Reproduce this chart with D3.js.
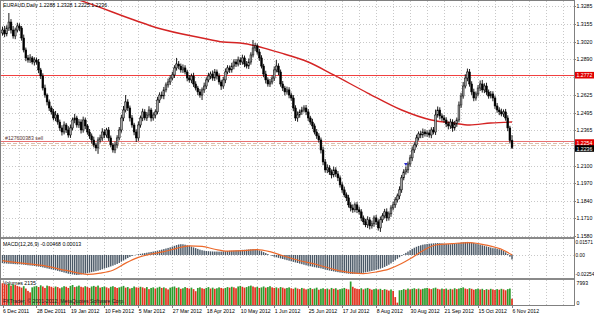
<!DOCTYPE html>
<html lang="en">
<head>
<meta charset="UTF-8" />
<title>EURAUD Daily</title>
<script src="https://d3js.org/d3.v7.min.js"></script>
<style>
  html, body { margin: 0; padding: 0; background: #fff; }
  svg { display: block; font-family: "Liberation Sans", Arial, sans-serif; }
  .lbl { font-size: 5.2px; fill: #000; }
  .grid line { stroke: #c8c8c8; stroke-dasharray: 1,2; shape-rendering: crispEdges; }
  .level { stroke: #f04040; stroke-width: 1; shape-rendering: crispEdges; }
</style>
</head>
<body>
<svg id="chart" width="594" height="316"></svg>
<script>
// ---- data ----
const symbolTitle = 'EURAUD,Daily';
const lastOHLC = ['1.2288', '1.2328', '1.2225', '1.2236'];
const firstOpen = 1.3085;
const closes = [
  1.3107,1.3078,1.3122,1.3166,1.3107,1.3063,1.3107,1.3137,
  1.3122,1.3048,1.2959,1.2900,1.2885,1.2900,1.2870,1.2885,
  1.2870,1.2811,1.2766,1.2677,1.2625,1.2574,1.2529,1.2500,
  1.2455,1.2477,1.2425,1.2381,1.2351,1.2403,1.2366,1.2329,
  1.2381,1.2440,1.2455,1.2403,1.2425,1.2366,1.2440,1.2396,
  1.2351,1.2322,1.2292,1.2255,1.2233,1.2292,1.2307,1.2351,
  1.2329,1.2366,1.2307,1.2255,1.2218,1.2255,1.2307,1.2366,
  1.2455,1.2514,1.2574,1.2529,1.2455,1.2403,1.2351,1.2307,
  1.2403,1.2455,1.2500,1.2455,1.2477,1.2514,1.2455,1.2477,
  1.2500,1.2588,1.2625,1.2618,1.2663,1.2700,1.2722,1.2751,
  1.2774,1.2826,1.2855,1.2840,1.2811,1.2826,1.2796,1.2751,
  1.2737,1.2766,1.2707,1.2677,1.2648,1.2625,1.2663,1.2692,
  1.2737,1.2766,1.2781,1.2751,1.2796,1.2766,1.2722,1.2692,
  1.2737,1.2796,1.2826,1.2811,1.2840,1.2870,1.2855,1.2885,
  1.2870,1.2900,1.2855,1.2840,1.2870,1.2922,1.2974,1.2989,
  1.2944,1.2900,1.2840,1.2781,1.2737,1.2707,1.2722,1.2751,
  1.2811,1.2840,1.2796,1.2707,1.2677,1.2648,1.2663,1.2625,
  1.2603,1.2529,1.2455,1.2477,1.2500,1.2514,1.2529,1.2500,
  1.2455,1.2425,1.2396,1.2351,1.2322,1.2292,1.2218,1.2129,
  1.2070,1.2085,1.2055,1.2033,1.2070,1.2040,1.2011,1.1959,
  1.1922,1.1885,1.1863,1.1811,1.1788,1.1774,1.1811,1.1774,
  1.1759,1.1714,1.1685,1.1663,1.1700,1.1655,1.1670,1.1714,
  1.1685,1.1640,1.1700,1.1729,1.1759,1.1714,1.1744,1.1788,
  1.1811,1.1848,1.1877,1.1922,1.2011,1.2055,1.2070,1.2114,
  1.2159,1.2218,1.2255,1.2307,1.2337,1.2329,1.2351,1.2337,
  1.2344,1.2329,1.2366,1.2351,1.2477,1.2514,1.2470,1.2455,
  1.2440,1.2411,1.2396,1.2425,1.2381,1.2411,1.2440,1.2551,
  1.2618,1.2692,1.2751,1.2796,1.2707,1.2648,1.2603,1.2633,
  1.2677,1.2707,1.2663,1.2692,1.2648,1.2618,1.2633,1.2603,
  1.2544,1.2514,1.2500,1.2485,1.2500,1.2455,1.2381,1.2288,
  1.2236
];
// wick lengths in pips above the body top / below the body bottom
const hiWick = [
  25,30,20,67,22,30,18,24, 20,15,25,18,22,28,14,20, 18,22,15,20,25,12,18,16,
  22,30,14,18,20,26,15,28, 24,18,30,16,22,20,25,18, 14,22,18,25,16,20,24,28,
  20,16,22,18,14,25,20,22, 24,30,51,20,18,22,16,20, 26,18,24,20,22,28,16,20,
  18,24,20,26,22,18,25,20, 24,20,45,22,18,26,20,16, 22,18,24,20,16,22,18,25,
  20,24,18,26,22,18,20,16, 22,26,20,18,24,20,22,25, 20,24,18,22,26,20,59,22,
  18,22,20,16,24,18,22,20, 26,45,20,18,22,16,24,20, 18,22,20,26,18,24,20,22,
  20,16,24,18,22,20,18,24, 22,26,20,18,24,20,22,18, 20,24,18,22,20,26,18,22,
  24,20,18,22,26,20,24,18, 22,18,24,20,22,26,18,20, 24,20,18,26,22,20,24,18,
  22,26,20,24,18,22,26,20, 18,24,20,22,40,26,20,18, 22,20,18,24,20,22,18,26,
  24,30,28,25,22,20,24,18, 22,26,30,20,24,18,22,20, 18,22,20,24,18,22,20,16,
  40
];
const loWick = [
  20,24,18,22,26,20,24,18, 22,20,18,24,20,22,18,26, 20,24,22,18,20,26,22,20,
  18,24,20,22,26,18,22,20, 22,18,24,20,22,26,20,24, 20,22,26,18,24,44,20,22,
  24,20,22,18,20,24,22,18, 20,24,18,22,26,20,24,30, 22,20,24,18,22,20,26,20,
  24,18,22,20,24,18,20,22, 18,22,20,24,20,22,18,24, 20,24,22,18,24,20,37,22,
  22,18,24,20,22,26,20,29, 20,24,18,22,20,24,22,18, 22,20,24,18,22,20,18,24,
  20,22,18,24,26,20,22,18, 22,18,24,20,22,26,20,24, 20,24,22,28,20,22,18,24,
  22,20,24,18,22,20,26,24, 20,24,22,26,18,22,24,20, 22,18,24,20,26,22,18,24,
  20,24,22,18,24,26,20,22, 24,20,30,22,18,24,20,22, 18,22,20,24,22,18,20,24,
  20,24,22,18,20,24,22,20, 22,20,24,18,22,20,26,22, 20,24,26,22,28,20,22,18,
  22,20,18,24,20,22,24,20, 18,22,20,24,22,20,18,24, 22,20,24,18,22,20,24,22,
  11
];
// moving average (red) read at a few bars
const maIdx = [28, 36, 62, 73, 94, 104, 112, 131, 144, 156, 172, 188, 202, 212, 220, 230, 240];
const maVal = [1.3366, 1.3329, 1.3181, 1.3122, 1.3048, 1.3018, 1.3011, 1.2937, 1.2870, 1.2774,
               1.2640, 1.2514, 1.2440, 1.2418, 1.2403, 1.2418, 1.2425];
const levelPrice = 1.2772;
const levelLabel = '1.2772';
const orderPrice = 1.2254;
const orderLabel = '1.2254';
const orderText = '#127600383 sell';
const bidPrice = 1.2236;
const bidLabel = '1.2236';
const tradeMarkIdx = 190;
const tradeMarkPrice = 1.2114;

const priceTicks = [1.3285, 1.3155, 1.3020, 1.2890, 1.2760, 1.2625, 1.2495, 1.2365,
                    1.2230, 1.2100, 1.1970, 1.1840, 1.1710, 1.1580];

const macdVals = [
  -0.0085,-0.0088,-0.0090,-0.0092,-0.0093,-0.0095,-0.0096,-0.0098,
  -0.0098,-0.0100,-0.0102,-0.0105,-0.0108,-0.0110,-0.0112,-0.0115,
  -0.0118,-0.0122,-0.0125,-0.0130,-0.0135,-0.0140,-0.0145,-0.0150,
  -0.0155,-0.0160,-0.0166,-0.0172,-0.0178,-0.0184,-0.0190,-0.0196,
  -0.0200,-0.0204,-0.0207,-0.0210,-0.0208,-0.0205,-0.0200,-0.0195,
  -0.0190,-0.0185,-0.0180,-0.0175,-0.0170,-0.0165,-0.0158,-0.0150,
  -0.0142,-0.0135,-0.0128,-0.0120,-0.0112,-0.0103,-0.0094,-0.0084,
  -0.0070,-0.0058,-0.0045,-0.0032,-0.0020,-0.0010,-0.0003,0.0003,
  0.0008,0.0012,0.0016,0.0020,0.0024,0.0028,0.0032,0.0036,
  0.0040,0.0045,0.0050,0.0056,0.0062,0.0068,0.0074,0.0080,
  0.0088,0.0096,0.0104,0.0110,0.0113,0.0112,0.0108,0.0102,
  0.0095,0.0088,0.0080,0.0072,0.0064,0.0056,0.0050,0.0045,
  0.0042,0.0040,0.0038,0.0037,0.0036,0.0036,0.0035,0.0036,
  0.0038,0.0040,0.0042,0.0044,0.0045,0.0046,0.0048,0.0050,
  0.0052,0.0054,0.0055,0.0056,0.0058,0.0060,0.0062,0.0060,
  0.0055,0.0048,0.0040,0.0030,0.0020,0.0010,0.0000,-0.0010,
  -0.0018,-0.0024,-0.0030,-0.0036,-0.0042,-0.0048,-0.0054,-0.0060,
  -0.0066,-0.0072,-0.0078,-0.0084,-0.0090,-0.0096,-0.0102,-0.0108,
  -0.0113,-0.0118,-0.0123,-0.0128,-0.0132,-0.0136,-0.0140,-0.0146,
  -0.0152,-0.0158,-0.0163,-0.0168,-0.0172,-0.0176,-0.0180,-0.0184,
  -0.0187,-0.0190,-0.0193,-0.0196,-0.0198,-0.0199,-0.0198,-0.0196,
  -0.0193,-0.0190,-0.0186,-0.0182,-0.0177,-0.0172,-0.0167,-0.0162,
  -0.0156,-0.0150,-0.0143,-0.0135,-0.0125,-0.0114,-0.0102,-0.0088,
  -0.0072,-0.0056,-0.0040,-0.0024,-0.0008,0.0008,0.0022,0.0036,
  0.0050,0.0064,0.0076,0.0086,0.0095,0.0102,0.0108,0.0112,
  0.0115,0.0118,0.0120,0.0122,0.0124,0.0125,0.0124,0.0122,
  0.0119,0.0116,0.0114,0.0113,0.0115,0.0118,0.0122,0.0126,
  0.0130,0.0134,0.0136,0.0137,0.0135,0.0131,0.0126,0.0120,
  0.0114,0.0108,0.0102,0.0096,0.0090,0.0084,0.0078,0.0072,
  0.0070,0.0066,0.0060,0.0052,0.0042,0.0028,0.0010,-0.0018,
  -0.00468
];
const signalIdx = [0, 10, 20, 30, 40, 46, 52, 58, 64, 70, 76, 82, 88, 94, 100, 106, 114, 120, 126,
                   132, 140, 148, 156, 164, 170, 176, 182, 188, 192, 198, 204, 212, 220, 228, 236, 240];
const signalVal = [-0.0060, -0.0088, -0.0115, -0.0162, -0.0203, -0.0190, -0.0160, -0.0085, -0.0025,
                   0.0010, 0.0035, 0.0070, 0.0095, 0.0090, 0.0060, 0.0040, 0.0045, 0.0057, 0.0035,
                   -0.0008, -0.0060, -0.0100, -0.0150, -0.0185, -0.0195, -0.0178, -0.0148, -0.0090,
                   -0.0040, 0.0045, 0.0105, 0.0120, 0.0130, 0.0103, 0.0050, 0.00013];
const macdTitle = 'MACD(12,26,9) -0.00468 0.00013';
const macdTicks = [0.01571, 0, -0.02254];
const macdTickText = ['0.01571', '0.00', '-0.02254'];

const volumes = [
  7400,7100,6900,7300,6600,7000,6800,6500, 6200,5900,6400,5600,4800,4300,6000,6300,
  6500,6100,6700,6300,5800,6600,6400,6200, 5900,6300,6100,5700,6000,6400,6200,5800,
  6500,6800,6100,6300,6600,6200,6000,6400, 6100,5800,6300,6500,6200,6600,5900,6100,
  6300,6000,5700,6200,6400,6100,5800,6000, 6200,6500,5900,6100,5600,5800,6300,6000,
  5900,6200,6000,5700,6100,5400,5800,6000, 5600,5900,6200,5800,6000,5700,5300,5900,
  6100,6300,5800,6000,5500,5700,6100,5800, 5600,5900,5400,4700,5800,6000,5700,5500,
  5800,6100,5600,5900,5500,5700,6000,5800, 5600,5800,6100,5900,6200,6000,5700,6300,
  6500,6200,5900,6100,6400,6600,6300,6000, 6200,5800,6000,6300,5900,6100,6400,6000,
  5800,6000,5700,6100,5900,5600,5800,6000, 5700,5500,5900,5600,5400,5800,5600,5300,
  5500,5800,5400,5600,5900,5200,5500,5700, 5400,5600,5300,5800,5500,5700,5200,5400,
  5600,5800,5500,5300,7993,6200,5700,5500, 5400,5700,5300,5600,5800,5500,5200,5400,
  5600,5300,5500,5100,5400,5200,4900,5300, 4800,2700,800,5000,5100,5400,5200,5600,
  5300,5500,5700,5400,5600,5300,5500,5700, 5800,5600,5400,5700,5900,5500,5300,5600,
  5400,5600,5200,5500,5300,5700,5400,5600, 5800,6000,5600,5400,5700,5500,5200,5400,
  5600,5300,5500,5100,5400,5200,5500,5300, 5100,5400,5200,5500,5300,5000,5400,5600,
  2135
];
const volTitle = 'Volumes 2135';
const volTicks = [7993, 0];
const copyrightText = 'FXTrader, \u00a9 2001-2012, MetaQuotes Software Corp.';

const dateLabels = ['6 Dec 2011', '28 Dec 2011', '19 Jan 2012', '10 Feb 2012', '5 Mar 2012',
  '27 Mar 2012', '18 Apr 2012', '10 May 2012', '1 Jun 2012', '25 Jun 2012', '17 Jul 2012',
  '8 Aug 2012', '30 Aug 2012', '21 Sep 2012', '15 Oct 2012', '6 Nov 2012'];
const labelEvery = 16;
const gridEvery = 8;

// ---- layout ----
const W = 594, H = 316;
const plotR = 574;
const main = { top: 1, bottom: 237 };
const macdP = { top: 239, bottom: 277 };
const volP = { top: 280, bottom: 305 };

const svg = d3.select('#chart');

const x = d3.scaleLinear().domain([0, closes.length - 1]).range([2.5, 512]);
const y = d3.scaleLinear().domain([1.1580, 1.3285]).range([236, 6]);
const ym = d3.scaleLinear().domain([-0.02254, 0.01571]).range([276.5, 240]);
const yv = d3.scaleLinear().domain([0, 7993]).range([305, 281.5]);

const bars = closes.map((c, i) => {
  const o = i === 0 ? firstOpen : closes[i - 1];
  return {
    i, o, c,
    h: Math.max(o, c) + hiWick[i] / 10000,
    l: Math.min(o, c) - loWick[i] / 10000
  };
});

svg.append('defs').append('clipPath').attr('id', 'clipMain')
  .append('rect').attr('x', 0).attr('y', main.top).attr('width', plotR).attr('height', main.bottom - main.top);

// grids
const grid = svg.append('g').attr('class', 'grid');
const gridIdx = d3.range(0, 400, gridEvery).filter(i => x(i) < plotR - 2);
[[main.top, main.bottom], [macdP.top, macdP.bottom], [volP.top, volP.bottom]].forEach(([t, b]) => {
  grid.selectAll(null).data(gridIdx).enter().append('line')
    .attr('x1', d => Math.round(x(d)) + 0.5).attr('x2', d => Math.round(x(d)) + 0.5)
    .attr('y1', t).attr('y2', b);
});
grid.selectAll(null).data(priceTicks).enter().append('line')
  .attr('x1', 0).attr('x2', plotR)
  .attr('y1', d => Math.round(y(d)) + 0.5).attr('y2', d => Math.round(y(d)) + 0.5);
grid.append('line').attr('x1', 0).attr('x2', plotR)
  .attr('y1', Math.round(ym(0)) + 0.5).attr('y2', Math.round(ym(0)) + 0.5);

// horizontal level + order lines (outside the clipped group)
svg.append('line').attr('class', 'level')
  .attr('x1', 1).attr('x2', plotR)
  .attr('y1', Math.round(y(levelPrice)) + 0.5).attr('y2', Math.round(y(levelPrice)) + 0.5);
svg.append('line').attr('class', 'level')
  .attr('x1', 1).attr('x2', plotR)
  .attr('y1', Math.round(y(orderPrice)) - 3.5).attr('y2', Math.round(y(orderPrice)) - 3.5)
  .style('stroke', '#e87070');
svg.append('line')
  .attr('x1', 1).attr('x2', plotR)
  .attr('y1', Math.round(y(orderPrice)) - 1.5).attr('y2', Math.round(y(orderPrice)) - 1.5)
  .style('stroke', '#c8a088').style('stroke-width', 0.7).style('stroke-dasharray', '4,2');
svg.append('line')
  .attr('x1', 1).attr('x2', plotR)
  .attr('y1', Math.round(y(orderPrice)) + 0.5).attr('y2', Math.round(y(orderPrice)) + 0.5)
  .style('stroke', '#d4b090').style('stroke-width', 0.7).style('stroke-dasharray', '5,2,1,2');

// main panel
const gMain = svg.append('g').attr('clip-path', 'url(#clipMain)');

gMain.append('path')
  .datum(maIdx.map((d, k) => [d, maVal[k]]))
  .attr('fill', 'none').attr('stroke', '#d42424').attr('stroke-width', 1.4)
  .attr('d', d3.line().x(d => x(d[0])).y(d => y(d[1])).curve(d3.curveMonotoneX));

const candle = gMain.append('g');
candle.selectAll('line').data(bars).enter().append('line')
  .attr('x1', d => x(d.i)).attr('x2', d => x(d.i))
  .attr('y1', d => y(d.h)).attr('y2', d => y(d.l))
  .attr('stroke', '#000').attr('stroke-width', 0.9);
candle.selectAll('rect').data(bars).enter().append('rect')
  .attr('x', d => x(d.i) - 0.9).attr('width', 1.8)
  .attr('y', d => y(Math.max(d.o, d.c)))
  .attr('height', d => Math.max(0.6, Math.abs(y(d.o) - y(d.c))))
  .attr('fill', d => d.c >= d.o ? '#a0a0a0' : '#000')
  .attr('stroke', '#000').attr('stroke-width', 0.5);

gMain.append('path')
  .attr('d', d3.symbol().type(d3.symbolTriangle).size(6)())
  .attr('transform', `translate(${x(tradeMarkIdx)},${y(tradeMarkPrice)}) rotate(180)`)
  .attr('fill', '#2a2ad0');

svg.append('text').attr('class', 'lbl').attr('x', 5).attr('y', Math.round(y(orderPrice)) - 5)
  .style('fill', '#553333').text(orderText);

svg.append('text').attr('class', 'lbl').attr('x', 3).attr('y', 7)
  .text(symbolTitle + '  ' + lastOHLC.join(' '));

// MACD panel
const gMacd = svg.append('g');
gMacd.selectAll('rect').data(macdVals).enter().append('rect')
  .attr('x', (d, i) => x(i) - 0.7).attr('width', 1.4)
  .attr('y', d => Math.min(ym(d), ym(0)))
  .attr('height', d => Math.abs(ym(d) - ym(0)))
  .attr('fill', '#4a5866');
gMacd.append('path')
  .datum(signalIdx.map((d, k) => [d, signalVal[k]]))
  .attr('fill', 'none').attr('stroke', '#ec6a2c').attr('stroke-width', 1.2)
  .attr('d', d3.line().x(d => x(d[0])).y(d => ym(d[1])).curve(d3.curveMonotoneX));
svg.append('text').attr('class', 'lbl').attr('x', 3).attr('y', 245.5).text(macdTitle);

// volume panel
svg.append('text').attr('class', 'lbl').attr('x', 3).attr('y', 285).text(volTitle);
const gVol = svg.append('g');
gVol.selectAll('rect').data(volumes).enter().append('rect')
  .attr('x', (d, i) => x(i) - 0.85).attr('width', 1.7)
  .attr('y', d => yv(d)).attr('height', d => yv(0) - yv(d))
  .attr('fill', (d, i) => (i > 0 && d > volumes[i - 1]) ? '#2c9c2c' : '#e2321e');
svg.append('text').attr('class', 'lbl').attr('x', 3).attr('y', 302.5)
  .style('fill', '#222').text(copyrightText);

// frames and separators
svg.append('line').attr('x1', 0).attr('x2', plotR).attr('y1', 0.5).attr('y2', 0.5)
  .attr('stroke', '#808080');
svg.append('rect').attr('x', 0).attr('y', main.bottom).attr('width', plotR).attr('height', 2)
  .attr('fill', '#8a8a8a');
svg.append('rect').attr('x', 0).attr('y', macdP.bottom + 1).attr('width', plotR).attr('height', 2)
  .attr('fill', '#8a8a8a');
svg.append('line').attr('x1', 0).attr('x2', plotR).attr('y1', volP.bottom + 0.5).attr('y2', volP.bottom + 0.5)
  .attr('stroke', '#808080');
svg.append('line').attr('x1', plotR + 0.5).attr('x2', plotR + 0.5).attr('y1', 0).attr('y2', volP.bottom + 1)
  .attr('stroke', '#808080');
svg.append('line').attr('x1', 0.5).attr('x2', 0.5).attr('y1', 0).attr('y2', volP.bottom + 1)
  .attr('stroke', '#808080');

// right axis labels (ticks hidden behind the price boxes are not written)
const boxPrices = [levelPrice, orderPrice, bidPrice];
const shownTicks = priceTicks.filter(p => boxPrices.every(b => Math.abs(y(p) - y(b)) > 5));
const axR = svg.append('g');
axR.selectAll('text.p').data(shownTicks).enter().append('text')
  .attr('class', 'lbl').attr('x', plotR + 2.5).attr('y', d => y(d) + 2).text(d => d.toFixed(4));
axR.selectAll('line.p').data(priceTicks).enter().append('line')
  .attr('x1', plotR).attr('x2', plotR + 2)
  .attr('y1', d => Math.round(y(d)) + 0.5).attr('y2', d => Math.round(y(d)) + 0.5).attr('stroke', '#808080');

function priceBox(price, text, fill, dy) {
  const cy = y(price) + dy;
  axR.append('rect').attr('x', plotR + 1).attr('y', cy - 3.3).attr('width', W - plotR - 1).attr('height', 6.6)
    .attr('fill', fill);
  axR.append('text').attr('class', 'lbl').attr('x', plotR + 2.5).attr('y', cy + 2)
    .style('fill', '#fff').text(text);
}
priceBox(levelPrice, levelLabel, '#e00000', 0);
priceBox(orderPrice, orderLabel, '#e00000', -2.5);
priceBox(bidPrice, bidLabel, '#000', 1);

axR.selectAll('text.m').data(macdTicks).enter().append('text')
  .attr('class', 'lbl').attr('x', plotR + 1.5)
  .attr('y', (d, k) => ym(d) + (k === 0 ? 3.5 : k === 2 ? -1 : 2))
  .style('font-size', '4.8px')
  .text((d, k) => macdTickText[k]);
axR.selectAll('text.v').data(volTicks).enter().append('text')
  .attr('class', 'lbl').attr('x', plotR + 2.5)
  .attr('y', (d, k) => yv(d) + (k === 0 ? 3 : -0.5))
  .text(d => d);

// date axis
const dateIdx = dateLabels.map((d, k) => k * labelEvery);
const axB = svg.append('g');
axB.selectAll('line').data(dateIdx).enter().append('line')
  .attr('x1', d => Math.round(x(d)) + 0.5).attr('x2', d => Math.round(x(d)) + 0.5)
  .attr('y1', volP.bottom).attr('y2', volP.bottom + 3).attr('stroke', '#808080');
axB.selectAll('text').data(dateIdx).enter().append('text')
  .attr('class', 'lbl').attr('x', d => x(d) + 0.5).attr('y', 313)
  .text((d, k) => dateLabels[k]);
</script>
</body>
</html>
